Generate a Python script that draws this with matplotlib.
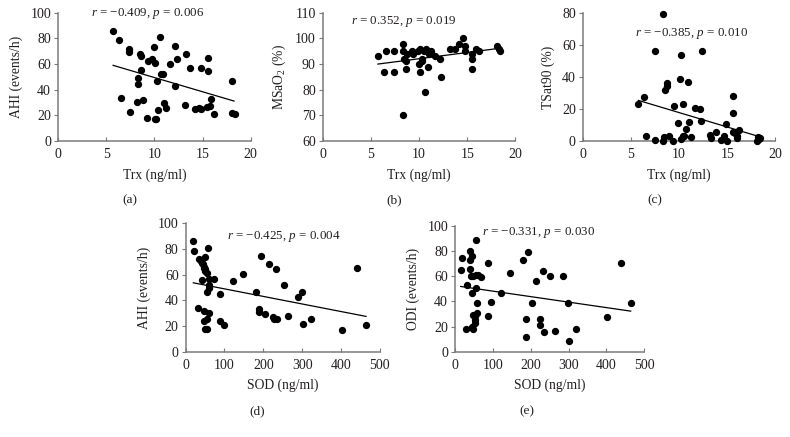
import numpy as np
import matplotlib
matplotlib.use('Agg')
import matplotlib.pyplot as plt

plt.rcParams['font.family'] = ['Liberation Serif', 'DejaVu Serif']
plt.rcParams['mathtext.fontset'] = 'custom'
plt.rcParams['mathtext.rm'] = 'Liberation Serif'
plt.rcParams['mathtext.it'] = 'Liberation Serif:italic'

# (a) Trx vs AHI
a_x = [5.72, 6.3, 6.5, 7.4, 7.4, 7.5, 8.25, 8.3, 8.3, 8.46, 8.6, 8.63, 8.84, 9.25,
       9.36, 9.8, 9.95, 10.05, 10.1, 10.2, 10.3, 10.33, 10.6, 10.7, 10.9, 11.0,
       11.2, 11.58, 12.1, 12.13, 12.3, 13.2, 13.24, 13.7, 14.2, 14.6, 14.84, 14.84,
       15.5, 15.56, 15.53, 15.8, 15.9, 16.2, 18.1, 18.1, 18.4]
a_y = [86, 78.4, 33.8, 71.4, 69.4, 23, 30.4, 49, 44.7, 68, 66.5, 55, 32.2, 17.7,
       62.3, 63.9, 73.2, 16.9, 60.8, 16.9, 46.8, 24.4, 80.8, 51.9, 51.9, 29.9,
       25.7, 59.7, 74.3, 42.6, 63.9, 28.3, 68, 56.6, 24.7, 25.5, 25.2, 56.6,
       26.2, 64.7, 54.8, 27, 32.7, 21, 46.5, 21.6, 20.8]
a_line = ([5.72, 18.27], [59.0, 31.2])

# (b) Trx vs MSaO2
b_x = [5.73, 6.32, 6.56, 7.43, 7.43, 8.29, 8.36, 8.36, 8.43, 8.6, 8.67, 8.74, 9.22,
       9.4, 9.9, 10.0, 10.1, 10.12, 10.26, 10.33, 10.47, 10.57, 10.67, 10.88, 11.0,
       11.2, 11.6, 12.16, 12.3, 13.16, 13.7, 14.16, 14.6, 14.8, 14.8, 15.47, 15.5,
       15.54, 15.9, 16.2, 18.07, 18.24, 18.4]
b_y = [93, 87, 95, 95, 87, 98, 70, 95, 92, 91, 88, 94, 95, 94, 95, 90, 87, 96, 91,
       92, 95, 79, 96, 89, 94, 95, 93, 92, 85, 96, 96, 98, 100, 97, 95, 94, 92, 88,
       96, 95, 97, 96, 95]
b_line = ([5.73, 18.07], [90.0, 96.0])

# (c) Trx vs TSat90
c_x = [5.77, 6.4, 6.6, 7.46, 7.5, 8.36, 8.36, 8.46, 8.56, 8.7, 8.7, 8.95, 9.4, 9.43,
       9.88, 10.09, 10.16, 10.2, 10.36, 10.4, 10.53, 10.7, 10.9, 11.05, 11.26, 11.6,
       12.16, 12.23, 12.33, 13.23, 13.26, 13.78, 14.3, 14.65, 14.85, 15.0, 15.58,
       15.6, 15.6, 15.85, 16.0, 16.0, 16.2, 18.1, 18.2, 18.3, 18.4]
c_y = [23.1, 27.2, 3.5, 56.1, 0.8, 79.4, 0.4, 2.7, 31.6, 36, 34.1, 3.5, 0.4, 22,
       11, 38.7, 53.8, 1.5, 3.1, 23.3, 2.9, 7.5, 36.6, 12.1, 2.3, 20.4, 20, 12.3,
       56.1, 3.7, 1.7, 5.4, 0.8, 2.9, 10.8, 0.4, 5.4, 27.9, 17.5, 5, 2.9, 1.9, 7.1,
       0.4, 2.7, 1.5, 1.9]
c_line = ([5.77, 18.17], [25.4, 3.1])

# (d) SOD vs AHI
d_x = [18, 22.3, 32.6, 35.2, 38.7, 41.2, 43, 43.8, 46.4, 46.4, 49, 47.2, 49, 47.2,
       50.7, 50.7, 54.1, 54, 55, 55.8, 58.4, 59.3, 60, 61, 61, 73, 88.5, 89.3, 98.8,
       122, 147, 181, 190, 190, 194, 204.5, 215.6, 224, 226.8, 232.8, 236, 254, 265,
       288.7, 299.8, 303, 322, 403, 440.7, 464.8]
d_y = [86, 78.5, 33.7, 71.8, 70.5, 69.2, 55.7, 67.9, 66, 31.9, 73.3, 65.3, 64, 24.1,
       17.6, 62.7, 17.9, 61.4, 46.6, 25.4, 80.8, 51.8, 30.3, 49.2, 56.5, 56.5, 44.8,
       23.8, 21.2, 55.2, 60.1, 46.6, 31.1, 32.9, 74.4, 29, 67.9, 26.9, 25.1, 64,
       25.4, 51.8, 27.5, 42.5, 46.6, 21.5, 25.1, 16.8, 64.8, 21.2]
d_line = ([19.8, 464.8], [53.6, 27.5])

# (e) SOD vs ODI
e_x = [15, 19.4, 29, 31.7, 39.6, 40.5, 39.6, 42.3, 44, 45, 46.7, 45.8, 47.5, 48.4,
       52, 52.8, 53.7, 54.6, 56.3, 55.5, 57.2, 58.1, 61.6, 69.5, 86.3, 86.3, 96,
       120.6, 144.4, 178.7, 186.6, 187.5, 191.9, 202.5, 213.9, 223.6, 224.5, 232.4,
       235, 251.8, 263.2, 286, 297.5, 302, 320.4, 402.3, 439.3, 464]
e_y = [65.3, 74.9, 18, 52.9, 66.1, 79.9, 73.3, 60, 19.3, 46.8, 18, 76.2, 60, 29.1,
       22.5, 24.9, 28.6, 50.3, 88.6, 60.8, 38.6, 31, 60.8, 59.5, 70.6, 28.3, 39.2,
       46.6, 62.7, 73.3, 11.4, 25.9, 79.4, 38.6, 56.6, 21.2, 26.2, 63.8, 15.6, 60.3,
       16.9, 60, 38.9, 8.2, 18.5, 27.5, 70.4, 38.4]
e_line = ([15, 464], [51.9, 32.3])

panels = [
    dict(rect=[0.0734, 0.677, 0.244, 0.294], x=a_x, y=a_y, line=a_line,
         xlim=(0, 20), xt=[0, 5, 10, 15, 20], ylim=(0, 100), yt=[0, 20, 40, 60, 80, 100],
         xl='Trx (ng/ml)', yl='AHI (events/h)', txt=(0.466, 0.99),
         r='\u22120.409', p='0.006', cap='(a)', cpos=(130, 200)),
    dict(rect=[0.4085, 0.677, 0.244, 0.294], x=b_x, y=b_y, line=b_line,
         xlim=(0, 20), xt=[0, 5, 10, 15, 20], ylim=(60, 110), yt=[60, 70, 80, 90, 100, 110],
         xl='Trx (ng/ml)', yl='MSaO$_2$ (%)', txt=(0.42, 0.935),
         r='0.352', p='0.019', cap='(b)', cpos=(394, 200)),
    dict(rect=[0.7376, 0.677, 0.244, 0.294], x=c_x, y=c_y, line=c_line,
         xlim=(0, 20), xt=[0, 5, 10, 15, 20], ylim=(0, 80), yt=[0, 20, 40, 60, 80],
         xl='Trx (ng/ml)', yl='TSat90 (%)', txt=(0.563, 0.836),
         r='\u22120.385', p='0.010', cap='(c)', cpos=(655, 200)),
    dict(rect=[0.235, 0.195, 0.2456, 0.2945], x=d_x, y=d_y, line=d_line,
         xlim=(0, 500), xt=[0, 100, 200, 300, 400, 500], ylim=(0, 100), yt=[0, 20, 40, 60, 80, 100],
         xl='SOD (ng/ml)', yl='AHI (events/h)', txt=(0.506, 0.894),
         r='\u22120.425', p='0.004', cap='(d)', cpos=(257, 411)),
    dict(rect=[0.576, 0.195, 0.2396, 0.288], x=e_x, y=e_y, line=e_line,
         xlim=(0, 500), xt=[0, 100, 200, 300, 400, 500], ylim=(0, 100), yt=[0, 20, 40, 60, 80, 100],
         xl='SOD (ng/ml)', yl='ODI (events/h)', txt=(0.443, 0.948),
         r='\u22120.331', p='0.030', cap='(e)', cpos=(527, 411)),
]

ink = '#231f20'
spine = '#7a7a7a'
W, H = 790, 437

fig = plt.figure(figsize=(7.9, 4.37), dpi=100)
for pn in panels:
    ax = fig.add_axes(pn['rect'])
    ax.scatter(pn['x'], pn['y'], s=18, color='black', zorder=3, clip_on=False)
    ax.plot(pn['line'][0], pn['line'][1], color='black', lw=0.9)
    ax.set_xlim(*pn['xlim'])
    ax.set_ylim(*pn['ylim'])
    ax.set_xticks(pn['xt'])
    ax.set_yticks(pn['yt'])
    for s in ['top', 'right']:
        ax.spines[s].set_visible(False)
    for s in ['left', 'bottom']:
        ax.spines[s].set_color(spine)
        ax.spines[s].set_linewidth(1.1)
    ax.tick_params(axis='x', direction='in', length=3, color=spine, labelsize=10,
                   labelcolor=ink, pad=5)
    ax.tick_params(axis='y', direction='out', length=3, color=spine, labelsize=10,
                   labelcolor=ink, pad=2)
    ax.set_xlabel(pn['xl'], fontsize=9.8, color=ink, labelpad=5)
    ax.set_ylabel(pn['yl'], fontsize=9.8, color=ink, labelpad=5)
    ax.text(pn['txt'][0], pn['txt'][1],
            r'$\it{r}$ = %s, $\it{p}$ = %s' % (pn['r'], pn['p']),
            transform=ax.transAxes, ha='center', va='center', fontsize=9.4, color=ink)
    fig.text(pn['cpos'][0] / W, 1 - pn['cpos'][1] / H, pn['cap'], ha='center',
             va='center', fontsize=9.6, color=ink)

fig.savefig('out.png', dpi=100)
